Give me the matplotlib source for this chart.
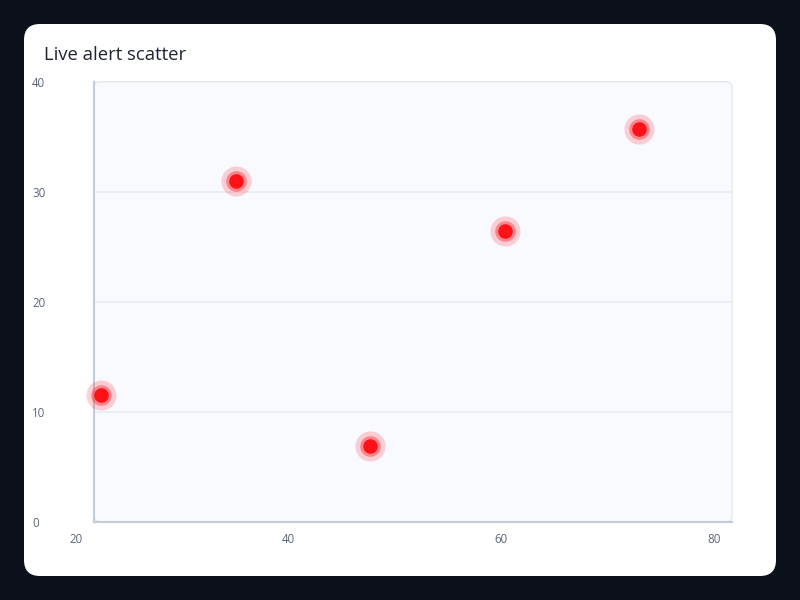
import matplotlib
matplotlib.use("Agg")
import matplotlib.pyplot as plt
import matplotlib.transforms as mtransforms
from matplotlib.patches import FancyBboxPatch

plt.rcParams["font.family"] = ["Open Sans", "DejaVu Sans"]

# data
alert_x = [20.66, 33.33, 45.98, 58.62, 71.28]
alert_y = [11.5, 31.0, 6.9, 26.4, 35.7]
x_ticks = [20, 40, 60, 80]
y_ticks = [0, 10, 20, 30, 40]
title = "Live alert scatter"

W, H = 800, 600
fig = plt.figure(figsize=(8, 6), dpi=100, facecolor="#0b0f1a")

# white card
card = FancyBboxPatch((24 / W, 24 / H), 752 / W, 552 / H,
                      boxstyle=f"round,pad=0,rounding_size={16 / W}",
                      mutation_aspect=W / H, transform=fig.transFigure,
                      facecolor="white", edgecolor="none", zorder=-2)
fig.add_artist(card)

# plot area
left, right, top, bottom = 94, 732, 81.7, 521.7
ax = fig.add_axes([left / W, 1 - bottom / H, (right - left) / W, (bottom - top) / H])
ax.set_facecolor("none")
bg = FancyBboxPatch((left / W, 1 - bottom / H), (right - left) / W, (bottom - top) / H,
                    boxstyle=f"round,pad=0,rounding_size={6 / W}",
                    mutation_aspect=W / H, transform=fig.transFigure,
                    facecolor="#f8faff", edgecolor="#e3e8f0", linewidth=1.0, zorder=-1)
fig.add_artist(bg)

ax.set_xlim(20, 80)
ax.set_ylim(0, 40)
for yv in y_ticks[1:-1]:
    ax.axhline(yv, color="#e8ecf3", linewidth=1.2, zorder=1)

for s in ["top", "right"]:
    ax.spines[s].set_visible(False)
for s in ["left", "bottom"]:
    ax.spines[s].set_color("#c3ccda")
    ax.spines[s].set_linewidth(1.5)

# glowing alert markers
ax.scatter(alert_x, alert_y, s=470, color="#ff1a24", alpha=0.2, linewidths=0, zorder=3, clip_on=False)
ax.scatter(alert_x, alert_y, s=220, color="#ff1a24", alpha=0.4, linewidths=0, zorder=4, clip_on=False)
ax.scatter(alert_x, alert_y, s=110, color="#ff1118", linewidths=0, zorder=5, clip_on=False)

ax.set_xticks(x_ticks)
ax.set_yticks(y_ticks)
ax.set_xticklabels([str(v) for v in x_ticks])
ax.set_yticklabels([str(v) for v in y_ticks])
ax.tick_params(length=0, labelsize=8.3, labelcolor="#5b6577")
ax.tick_params(axis="y", pad=44.6)
ax.tick_params(axis="x", pad=8)
for lab in ax.get_yticklabels():
    lab.set_horizontalalignment("left")
shift = mtransforms.ScaledTranslation(-18 / 100, 0, fig.dpi_scale_trans)
for lab in ax.get_xticklabels():
    lab.set_transform(lab.get_transform() + shift)

fig.text(44 / W, 1 - 55 / H, title, fontsize=13.3, color="#1e2433", va="center", ha="left")

fig.savefig("out.png", dpi=100, facecolor=fig.get_facecolor())
